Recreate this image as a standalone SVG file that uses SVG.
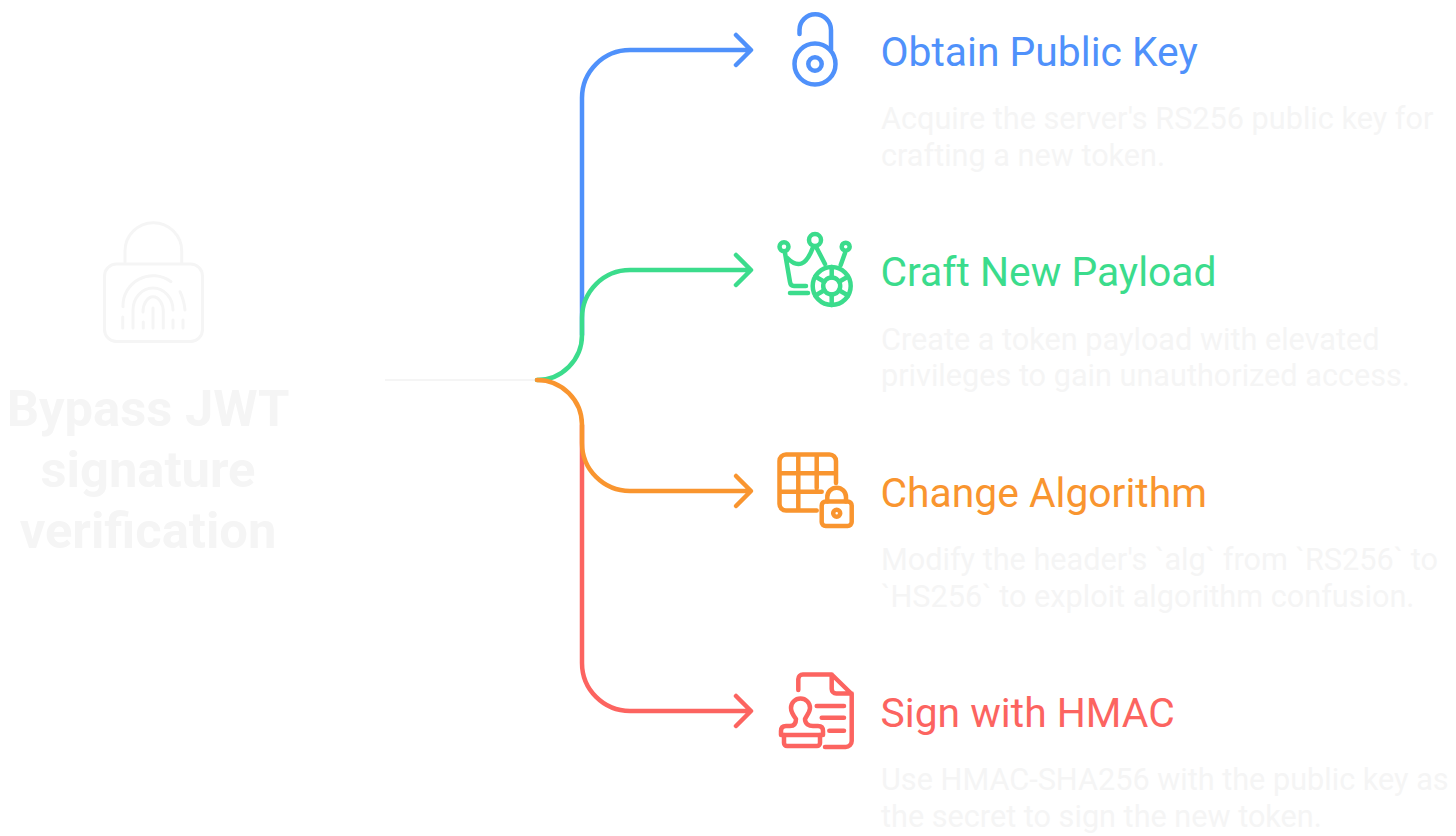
<svg xmlns="http://www.w3.org/2000/svg" width="1456" height="836" viewBox="0 0 1456 836">
<style>
text{font-family:Roboto,"Liberation Sans",sans-serif}
.t{font-size:40.8px}
.d{font-size:30.650px;fill:#f5f5f5}
.h{font-size:50.700px;font-weight:700;fill:#f5f5f5;text-anchor:middle}
.l{fill:none;stroke-width:4.5px;stroke-linecap:round;stroke-linejoin:round}
.b{stroke:#4f91fb}.g{stroke:#3bdc8c}.o{stroke:#f9952f}.r{stroke:#fc6460}
.hi{fill:none;stroke:#f5f5f5;stroke-width:3px;stroke-linecap:round;stroke-linejoin:round}
</style>
<rect width="1456" height="836" fill="#fff"/>
<g id="connectors">
<path d="M385 380H537" fill="none" stroke="#f5f5f5" stroke-width="2"/>
<path class="l b" d="M582 335V98A48 48 0 0 1 630 50H750M736 35L751 50L736 65"/>
<path class="l g" d="M537 380A45 45 0 0 0 582 335V318A48 48 0 0 1 630 270H750M736 255L751 270L736 285"/>
<path class="l r" d="M582 425V663A48 48 0 0 0 630 711H750M736 696L751 711L736 726"/>
<path class="l o" d="M537 380A45 45 0 0 1 582 425V443A48 48 0 0 0 630 491H750M736 476L751 491L736 506"/>
</g>
<g id="node-root">
<path class="hi" d="M125 263V251a28.300 28.300 0 0 1 56.700 0V263"/>
<rect class="hi" x="104.500" y="264" width="98" height="77.500" rx="12"/>
<path class="hi" d="M123 306.700A30 30 0 0 1 171 281.700M180 291.700Q184 300 185 310M133 328V310A20 22 0 0 1 173 310M143 312A10 15 0 0 1 163.300 312V328M122.700 317V328M143.300 322V328M153 308V328M173 320V328M183 320V328"/>
<text class="h" x="148" y="426">Bypass JWT</text>
<text class="h" x="148" y="487">signature</text>
<text class="h" x="148" y="548">verification</text>
</g>
<g id="node-1">
<path class="l b" d="M799.500 34V30a15.750 15.750 0 0 1 31.500 0V50"/>
<circle class="l b" cx="815" cy="64" r="20.500"/>
<circle class="l b" cx="815" cy="64" r="6.700"/>
<text class="t" x="880.500" y="66" fill="#4f91fb">Obtain Public Key</text>
<text class="d" x="881" y="129">Acquire the server's RS256 public key for</text>
<text class="d" x="881" y="166">crafting a new token.</text>
</g>
<g id="node-2">
<circle class="l g" cx="784" cy="246.700" r="4.500"/><circle class="l g" cx="815" cy="240" r="6"/><circle class="l g" cx="845.700" cy="246.700" r="4"/>
<path class="l g" d="M785 253L790 282Q790.500 286 794 286H806M790 293H808M787.300 258Q803 274 812.700 248M816.700 248L825 264M845 253L840.700 265"/>
<circle class="l g" cx="831.700" cy="286" r="19"/><circle class="l g" cx="831.700" cy="286" r="8.500"/>
<path class="l g" d="M831.700 267V277.500M831.700 294.500V305M815.300 276.500L824.300 281.700M839.100 290.300L848.100 295.500M815.300 295.500L824.300 290.300M839.100 281.700L848.100 276.500"/>
<text class="t" x="880.500" y="286" fill="#3bdc8c">Craft New Payload</text>
<text class="d" x="881" y="350">Create a token payload with elevated</text>
<text class="d" x="881" y="386">privileges to gain unauthorized access.</text>
</g>
<g id="node-3">
<path class="l o" d="M816.700 510.500H786a6.500 6.500 0 0 1-6.500-6.500V461a6.500 6.500 0 0 1 6.500-6.500H829.500a6.500 6.500 0 0 1 6.500 6.500V483M779.500 473.300H836M779.500 491.700H821.700M798.300 454.500V510.500M816.700 454.500V488"/>
<rect class="l o" x="821.700" y="501.500" width="30" height="24.500" rx="4"/>
<path class="l o" d="M827.300 501.500V497a9.350 9.350 0 0 1 18.700 0V501.500"/>
<circle class="l o" cx="836.700" cy="513.300" r="3.500"/>
<text class="t" x="880.500" y="507" fill="#f9952f">Change Algorithm</text>
<text class="d" x="881" y="570">Modify the header's `alg` from `RS256` to</text>
<text class="d" x="881" y="607">`HS256` to exploit algorithm confusion.</text>
</g>
<g id="node-4">
<path class="l r" d="M798.300 690V679a4.500 4.500 0 0 1 4.500-4.500H831.700L851.700 694V741a6 6 0 0 1-6 6H825M831.700 674.500V689a4.500 4.500 0 0 0 4.500 4.500H851.700M816.700 706H844M821.700 717.700H844M829.300 730.700H844"/>
<path class="l r" d="M796 719C793 715 791 712 791 708A9.500 9.500 0 0 1 810 708C810 712 807 715 805 719C805 724 809 726 813 726H818Q823 726 823 731V735H781V731Q781 726 786 726H790C794 726 796 724 796 719Z"/>
<path class="l r" d="M784 735V743a3 3 0 0 0 3 3H817a3 3 0 0 0 3-3V735"/>
<text class="t" x="880.500" y="727" fill="#fc6460">Sign with HMAC</text>
<text class="d" x="881" y="790">Use HMAC-SHA256 with the public key as</text>
<text class="d" x="881" y="827">the secret to sign the new token.</text>
</g>
</svg>
